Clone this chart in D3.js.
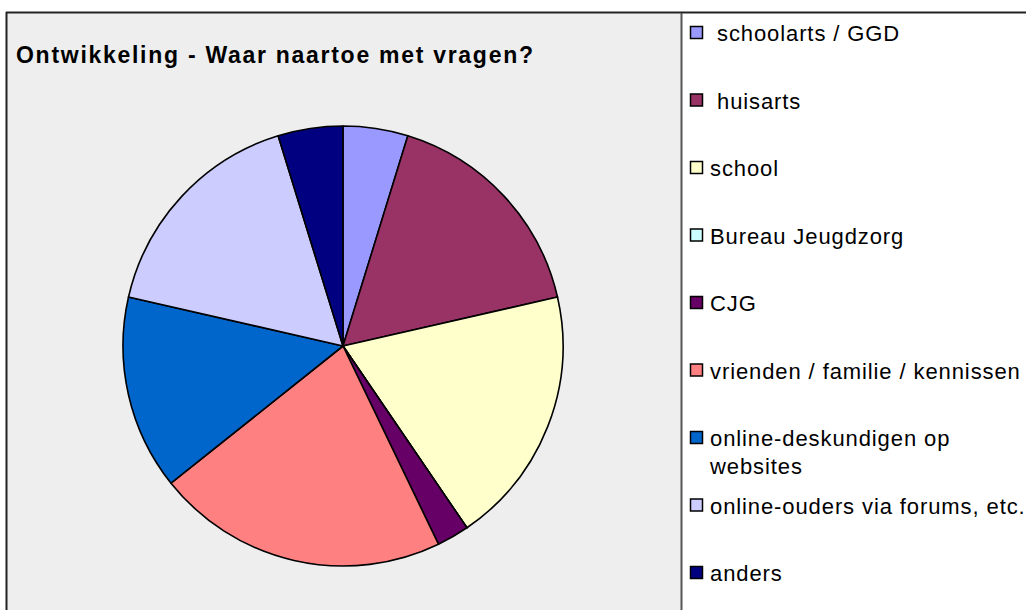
<!DOCTYPE html>
<html>
<head>
<meta charset="utf-8">
<script src="https://cdn.jsdelivr.net/npm/d3@7"></script>
<style>
  body{margin:0;background:#fff;}
  svg{display:block;font-family:"Liberation Sans",Arial,sans-serif;}
</style>
</head>
<body>
<svg id="chart" width="1026" height="610"></svg>
<script>
// data ------------------------------
var categories=[' schoolarts / GGD',' huisarts','school','Bureau Jeugdzorg','CJG',
  'vrienden / familie / kennissen','online-deskundigen op|websites','online-ouders via forums, etc.','anders'];
var values=[2,7,8,0,1,9,6,7,2];
var colors=['#9999ff','#993366','#ffffcc','#ccffff','#660066','#ff8080','#0066cc','#ccccff','#000080'];
var title='Ontwikkeling - Waar naartoe met vragen?';

var svg=d3.select('#chart');

// plot area
svg.append('rect').attr('x',7).attr('y',13).attr('width',675).attr('height',610)
  .attr('fill','#eeeeee');
svg.append('line').attr('x1',6.5).attr('x2',6.5).attr('y1',12).attr('y2',610)
  .attr('stroke','#222').attr('stroke-width',2);
svg.append('line').attr('x1',6).attr('x2',1026).attr('y1',12.5).attr('y2',12.5)
  .attr('stroke','#222').attr('stroke-width',2);
svg.append('line').attr('x1',681.5).attr('x2',681.5).attr('y1',13).attr('y2',610)
  .attr('stroke','#555').attr('stroke-width',2);

svg.append('text').attr('x',16).attr('y',62.5)
  .attr('font-size',23).attr('font-weight','bold')
  .attr('textLength',517).attr('lengthAdjust','spacing')
  .text(title);

// pie
var cx=343,cy=346,r=220;
var pie=d3.pie().sort(null).value(d=>d);
var arc=d3.arc().innerRadius(0).outerRadius(r);
var g=svg.append('g').attr('transform',`translate(${cx},${cy})`);
g.selectAll('path').data(pie(values)).join('path')
  .attr('d',arc)
  .attr('fill',(d,i)=>colors[i])
  .attr('stroke','#000').attr('stroke-width',1.6).attr('stroke-linejoin','round');

// legend
var legendY=d3.scalePoint().domain(d3.range(categories.length)).range([33,573]);
var leg=svg.append('g');
categories.forEach(function(c,i){
  var y=legendY(i);
  leg.append('rect').attr('x',690.5).attr('y',y-6.5).attr('width',12).attr('height',12)
    .attr('fill',colors[i]).attr('stroke','#000').attr('stroke-width',1.5);
  var t=leg.append('text').attr('x',710).attr('y',y+8).attr('font-size',22).attr('fill','#000')
    .attr('letter-spacing',0.9).attr('xml:space','preserve');
  c.split('|').forEach(function(line,j){
    t.append('tspan').attr('x',710).attr('dy',j==0?0:28).text(line);
  });
});
</script>
</body>
</html>
